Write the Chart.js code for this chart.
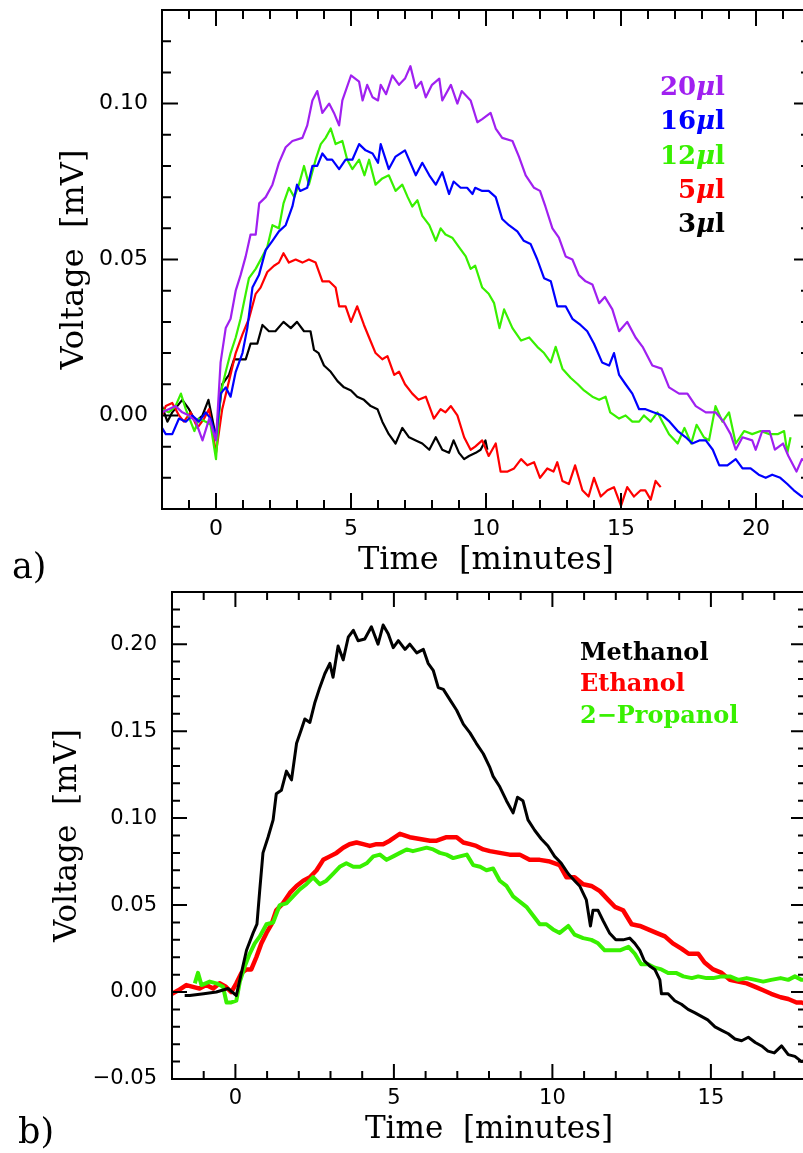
<!DOCTYPE html>
<html>
<head>
<meta charset="utf-8">
<script src="https://cdn.jsdelivr.net/npm/chart.js@4.4.1/dist/chart.umd.min.js"></script>
<style>
  html, body { margin: 0; padding: 0; background: #fff; overflow: hidden; width: 803px; height: 1153px; }
  canvas { position: absolute; left: 0; }
  #chartA { top: 0; }
  #chartB { top: 590px; }
</style>
</head>
<body>
<canvas id="chartA" width="820" height="590"></canvas>
<canvas id="chartB" width="820" height="563"></canvas>
<script>
// ---- panel a: injected volume series (time in minutes, voltage in mV)
const tA20 = [-2.0, -1.75, -1.5, -1.25, -1.0, -0.75, -0.5, -0.25, 0.0, 0.17, 0.36, 0.54, 0.73, 0.91, 1.1, 1.28, 1.47, 1.6, 1.84, 2.09, 2.33, 2.58, 2.83, 3.2, 3.38, 3.57, 3.75, 3.94, 4.19, 4.37, 4.56, 4.68, 5.0, 5.3, 5.43, 5.6, 5.8, 6.0, 6.1, 6.3, 6.53, 6.78, 7.0, 7.2, 7.4, 7.6, 7.77, 8.0, 8.27, 8.38, 8.7, 8.94, 9.1, 9.43, 9.68, 9.86, 10.17, 10.36, 10.6, 10.98, 11.22, 11.47, 11.78, 12.0, 12.2, 12.46, 12.7, 12.95, 13.2, 13.44, 13.69, 13.94, 14.19, 14.4, 14.68, 14.93, 15.23, 15.54, 15.8, 16.16, 16.5, 16.78, 17.15, 17.46, 17.77, 18.14, 18.5, 18.8, 19.06, 19.25, 19.5, 19.86, 19.99, 20.23, 20.5, 20.7, 21.0, 21.2, 21.5, 21.7, 22.0];
const vA20 = [0.001, 0.002, 0.003, 0.001, 0.0, -0.002, -0.008, -0.001, -0.008, 0.017, 0.028, 0.031, 0.040, 0.045, 0.051, 0.058, 0.058, 0.068, 0.070, 0.074, 0.081, 0.086, 0.088, 0.089, 0.093, 0.101, 0.104, 0.097, 0.100, 0.097, 0.093, 0.101, 0.109, 0.107, 0.101, 0.106, 0.102, 0.101, 0.106, 0.103, 0.109, 0.106, 0.108, 0.112, 0.105, 0.107, 0.102, 0.106, 0.108, 0.101, 0.106, 0.100, 0.104, 0.101, 0.094, 0.095, 0.097, 0.092, 0.089, 0.088, 0.083, 0.077, 0.073, 0.072, 0.067, 0.060, 0.057, 0.051, 0.050, 0.045, 0.043, 0.042, 0.036, 0.038, 0.034, 0.027, 0.030, 0.025, 0.022, 0.016, 0.015, 0.009, 0.007, 0.007, 0.003, 0.001, 0.001, -0.002, -0.006, -0.011, -0.007, -0.008, -0.011, -0.005, -0.005, -0.011, -0.009, -0.013, -0.018, -0.014, -0.016];

const tA16 = [-2.0, -1.86, -1.62, -1.37, -1.12, -0.88, -0.63, -0.38, -0.2, 0.0, 0.17, 0.36, 0.54, 0.73, 0.98, 1.16, 1.35, 1.59, 1.84, 2.09, 2.33, 2.58, 2.83, 3.0, 3.12, 3.38, 3.57, 3.75, 3.94, 4.12, 4.3, 4.56, 4.8, 5.05, 5.3, 5.54, 5.8, 6.0, 6.1, 6.4, 6.65, 7.0, 7.4, 7.64, 7.9, 8.14, 8.38, 8.63, 8.8, 9.06, 9.3, 9.5, 9.6, 9.86, 10.1, 10.36, 10.6, 10.85, 11.16, 11.4, 11.65, 11.9, 12.15, 12.4, 12.64, 12.95, 13.2, 13.5, 13.75, 14.0, 14.3, 14.56, 14.74, 14.93, 15.17, 15.42, 15.67, 15.91, 16.2, 16.53, 16.8, 17.1, 17.4, 17.64, 17.9, 18.14, 18.4, 18.64, 18.94, 19.25, 19.5, 19.8, 20.1, 20.36, 20.6, 20.9, 21.16, 21.4, 21.7, 22.0];
const vA16 = [-0.004, -0.006, -0.006, -0.001, -0.002, 0.0, -0.002, 0.001, -0.001, -0.007, 0.007, 0.009, 0.006, 0.014, 0.020, 0.028, 0.041, 0.045, 0.053, 0.056, 0.059, 0.061, 0.067, 0.074, 0.072, 0.073, 0.080, 0.080, 0.084, 0.082, 0.082, 0.079, 0.082, 0.082, 0.087, 0.085, 0.084, 0.081, 0.087, 0.079, 0.083, 0.085, 0.077, 0.081, 0.077, 0.074, 0.078, 0.071, 0.075, 0.073, 0.073, 0.071, 0.073, 0.072, 0.072, 0.070, 0.063, 0.061, 0.059, 0.056, 0.055, 0.050, 0.044, 0.043, 0.035, 0.035, 0.031, 0.029, 0.027, 0.023, 0.017, 0.016, 0.020, 0.013, 0.010, 0.007, 0.002, 0.002, 0.001, 0.0, -0.002, -0.005, -0.007, -0.009, -0.008, -0.008, -0.011, -0.016, -0.016, -0.014, -0.017, -0.017, -0.019, -0.020, -0.019, -0.020, -0.022, -0.024, -0.026, -0.027];

const tA12 = [-2.0, -1.75, -1.5, -1.3, -1.12, -0.8, -0.63, -0.38, -0.2, 0.0, 0.17, 0.36, 0.54, 0.73, 0.91, 1.1, 1.22, 1.47, 1.72, 1.9, 2.09, 2.33, 2.5, 2.7, 2.9, 3.07, 3.26, 3.44, 3.69, 3.88, 4.06, 4.25, 4.43, 4.68, 4.86, 5.05, 5.3, 5.5, 5.67, 5.91, 6.16, 6.4, 6.65, 6.9, 7.1, 7.27, 7.46, 7.64, 7.9, 8.14, 8.32, 8.5, 8.75, 9.0, 9.25, 9.43, 9.6, 9.86, 10.1, 10.3, 10.5, 10.67, 10.98, 11.3, 11.6, 11.9, 12.15, 12.4, 12.58, 12.83, 13.14, 13.4, 13.63, 13.94, 14.19, 14.43, 14.6, 14.93, 15.17, 15.42, 15.67, 15.85, 16.1, 16.35, 16.53, 16.78, 17.1, 17.35, 17.6, 17.8, 18.07, 18.26, 18.5, 18.76, 19.0, 19.25, 19.56, 19.86, 20.17, 20.5, 20.8, 21.04, 21.16, 21.28];
const vA12 = [0.002, 0.001, 0.003, 0.007, 0.002, -0.005, -0.001, -0.002, -0.003, -0.014, 0.007, 0.014, 0.020, 0.025, 0.031, 0.039, 0.044, 0.047, 0.051, 0.054, 0.061, 0.060, 0.068, 0.073, 0.070, 0.074, 0.080, 0.074, 0.082, 0.087, 0.089, 0.092, 0.087, 0.088, 0.082, 0.079, 0.082, 0.077, 0.082, 0.074, 0.076, 0.077, 0.072, 0.074, 0.070, 0.067, 0.069, 0.064, 0.061, 0.056, 0.060, 0.058, 0.057, 0.054, 0.051, 0.047, 0.048, 0.041, 0.039, 0.036, 0.028, 0.034, 0.028, 0.024, 0.025, 0.022, 0.020, 0.017, 0.022, 0.015, 0.012, 0.010, 0.008, 0.006, 0.005, 0.006, 0.001, -0.001, 0.0, -0.002, -0.002, 0.0, -0.002, 0.001, -0.002, -0.006, -0.009, -0.004, -0.009, -0.003, -0.007, -0.008, 0.003, -0.002, 0.001, -0.009, -0.005, -0.006, -0.005, -0.006, -0.006, -0.005, -0.012, -0.007];

const tA5 = [-2.0, -1.86, -1.62, -1.37, -1.19, -0.94, -0.69, -0.44, -0.26, 0.0, 0.23, 0.48, 0.73, 0.98, 1.22, 1.47, 1.65, 1.9, 2.15, 2.33, 2.5, 2.7, 2.95, 3.2, 3.44, 3.69, 3.94, 4.19, 4.43, 4.56, 4.8, 5.0, 5.23, 5.48, 5.67, 5.91, 6.16, 6.35, 6.6, 6.78, 7.0, 7.27, 7.5, 7.77, 8.07, 8.32, 8.5, 8.7, 8.94, 9.19, 9.43, 9.6, 9.86, 10.1, 10.36, 10.54, 10.8, 11.04, 11.3, 11.53, 11.78, 12.0, 12.27, 12.5, 12.64, 12.83, 13.07, 13.3, 13.57, 13.8, 14.0, 14.25, 14.5, 14.74, 15.0, 15.23, 15.48, 15.73, 15.9, 16.1, 16.28, 16.47];
const vA5 = [0.0, 0.003, 0.004, 0.0, -0.002, 0.001, -0.004, -0.001, 0.002, -0.012, 0.002, 0.011, 0.020, 0.026, 0.031, 0.039, 0.041, 0.046, 0.048, 0.049, 0.052, 0.049, 0.050, 0.049, 0.050, 0.049, 0.043, 0.043, 0.041, 0.035, 0.035, 0.030, 0.035, 0.029, 0.025, 0.020, 0.018, 0.019, 0.013, 0.014, 0.010, 0.007, 0.005, 0.006, -0.001, 0.002, 0.001, 0.003, 0.0, -0.007, -0.011, -0.010, -0.008, -0.013, -0.009, -0.018, -0.018, -0.017, -0.014, -0.016, -0.015, -0.020, -0.017, -0.018, -0.015, -0.021, -0.022, -0.016, -0.024, -0.026, -0.020, -0.026, -0.024, -0.023, -0.029, -0.023, -0.026, -0.024, -0.024, -0.027, -0.021, -0.023];

const tA3 = [-2.0, -1.8, -1.62, -1.25, -1.0, -0.75, -0.5, -0.28, 0.0, 0.23, 0.48, 0.67, 0.91, 1.1, 1.28, 1.53, 1.72, 1.96, 2.2, 2.5, 2.77, 3.0, 3.26, 3.5, 3.63, 3.8, 4.0, 4.25, 4.5, 4.74, 5.0, 5.23, 5.48, 5.73, 5.98, 6.16, 6.4, 6.65, 6.9, 7.15, 7.4, 7.64, 7.9, 8.14, 8.38, 8.63, 8.8, 9.0, 9.19, 9.37, 9.62, 9.8, 9.98, 10.05];
const vA3 = [0.003, -0.002, 0.001, 0.005, 0.002, -0.002, 0.0, 0.005, -0.007, 0.010, 0.013, 0.018, 0.018, 0.018, 0.023, 0.023, 0.029, 0.027, 0.027, 0.030, 0.028, 0.030, 0.027, 0.027, 0.021, 0.020, 0.016, 0.014, 0.011, 0.009, 0.008, 0.006, 0.005, 0.003, 0.002, -0.002, -0.006, -0.009, -0.004, -0.007, -0.008, -0.009, -0.011, -0.007, -0.011, -0.012, -0.008, -0.012, -0.014, -0.013, -0.012, -0.011, -0.008, -0.011];

const labelsA = ['20\u03bcl', '16\u03bcl', '12\u03bcl', '5\u03bcl', '3\u03bcl'];
const colorsA = ['#a020f0', '#0000ff', '#38f000', '#ff0000', '#000000'];
const xTicksA = [0, 5, 10, 15, 20];
const yTicksA = [0.00, 0.05, 0.10];

// ---- panel b: alcohols
const tMeth = [-1.6, -1.44, -1.0, -0.6, -0.23, 0.03, 0.19, 0.35, 0.56, 0.68, 0.77, 0.87, 1.03, 1.19, 1.29, 1.45, 1.61, 1.77, 1.93, 2.08, 2.19, 2.35, 2.5, 2.66, 2.82, 2.98, 3.08, 3.24, 3.4, 3.56, 3.72, 3.87, 4.08, 4.29, 4.5, 4.66, 4.82, 4.98, 5.14, 5.35, 5.5, 5.72, 5.93, 6.08, 6.24, 6.4, 6.56, 6.77, 6.98, 7.19, 7.4, 7.6, 7.82, 8.03, 8.13, 8.34, 8.55, 8.76, 8.9, 9.07, 9.23, 9.44, 9.65, 9.86, 10.07, 10.28, 10.5, 10.7, 10.86, 11.07, 11.2, 11.28, 11.44, 11.6, 11.8, 12.0, 12.23, 12.44, 12.6, 12.76, 12.9, 13.07, 13.23, 13.39, 13.44, 13.65, 13.86, 14.07, 14.28, 14.5, 14.7, 14.9, 15.13, 15.34, 15.55, 15.76, 15.97, 16.18, 16.4, 16.6, 16.8, 17.0, 17.23, 17.44, 17.65, 17.86, 18.0];
const vMeth = [-0.002, -0.002, -0.001, 0.0, 0.002, -0.002, 0.011, 0.024, 0.034, 0.039, 0.059, 0.080, 0.089, 0.099, 0.114, 0.116, 0.127, 0.122, 0.143, 0.151, 0.157, 0.155, 0.166, 0.175, 0.183, 0.189, 0.181, 0.199, 0.191, 0.204, 0.208, 0.202, 0.203, 0.210, 0.200, 0.211, 0.206, 0.198, 0.202, 0.197, 0.200, 0.195, 0.197, 0.189, 0.185, 0.175, 0.174, 0.168, 0.162, 0.154, 0.149, 0.143, 0.137, 0.129, 0.124, 0.118, 0.110, 0.103, 0.112, 0.110, 0.099, 0.093, 0.088, 0.084, 0.078, 0.074, 0.068, 0.064, 0.061, 0.053, 0.038, 0.047, 0.047, 0.041, 0.034, 0.030, 0.030, 0.031, 0.028, 0.024, 0.018, 0.015, 0.013, 0.007, -0.001, -0.001, -0.005, -0.007, -0.010, -0.012, -0.014, -0.016, -0.020, -0.022, -0.024, -0.027, -0.028, -0.026, -0.029, -0.031, -0.034, -0.035, -0.031, -0.036, -0.037, -0.040, -0.039];

const tEth = [-2.0, -1.8, -1.55, -1.34, -1.13, -0.92, -0.7, -0.5, -0.3, -0.13, 0.03, 0.19, 0.35, 0.5, 0.66, 0.82, 0.98, 1.14, 1.29, 1.5, 1.72, 1.93, 2.14, 2.35, 2.56, 2.77, 2.98, 3.19, 3.4, 3.6, 3.82, 4.03, 4.24, 4.45, 4.66, 4.87, 5.19, 5.5, 5.82, 6.14, 6.35, 6.66, 6.98, 7.19, 7.4, 7.6, 7.82, 8.03, 8.34, 8.65, 8.97, 9.28, 9.6, 9.92, 10.23, 10.44, 10.7, 10.97, 11.23, 11.5, 11.76, 11.97, 12.23, 12.5, 12.76, 13.02, 13.28, 13.55, 13.8, 14.07, 14.3, 14.6, 14.8, 15.07, 15.34, 15.6, 15.86, 16.13, 16.4, 16.65, 16.9, 17.2, 17.44, 17.7, 17.86, 18.0];
const vEth = [-0.001, 0.001, 0.004, 0.003, 0.002, 0.004, 0.002, 0.005, 0.003, 0.0, 0.005, 0.011, 0.013, 0.013, 0.020, 0.028, 0.034, 0.039, 0.047, 0.051, 0.057, 0.061, 0.064, 0.066, 0.070, 0.076, 0.078, 0.080, 0.083, 0.085, 0.086, 0.085, 0.084, 0.085, 0.085, 0.087, 0.091, 0.089, 0.088, 0.087, 0.087, 0.089, 0.089, 0.086, 0.085, 0.084, 0.082, 0.081, 0.080, 0.079, 0.079, 0.076, 0.076, 0.075, 0.073, 0.066, 0.066, 0.062, 0.061, 0.058, 0.053, 0.049, 0.047, 0.039, 0.038, 0.036, 0.034, 0.032, 0.028, 0.025, 0.022, 0.022, 0.017, 0.013, 0.011, 0.007, 0.006, 0.005, 0.003, 0.001, -0.001, -0.003, -0.004, -0.006, -0.006, -0.007];

const tProp = [-1.28, -1.18, -1.07, -0.81, -0.6, -0.39, -0.28, -0.13, 0.03, 0.14, 0.3, 0.45, 0.61, 0.77, 0.98, 1.19, 1.4, 1.61, 1.82, 2.03, 2.24, 2.45, 2.66, 2.87, 3.08, 3.29, 3.5, 3.72, 3.93, 4.14, 4.35, 4.56, 4.77, 4.98, 5.19, 5.4, 5.6, 5.82, 6.03, 6.24, 6.45, 6.66, 6.87, 7.08, 7.3, 7.5, 7.72, 7.92, 8.13, 8.34, 8.55, 8.76, 8.97, 9.18, 9.39, 9.6, 9.81, 10.02, 10.23, 10.5, 10.7, 10.97, 11.23, 11.44, 11.65, 11.9, 12.13, 12.4, 12.6, 12.8, 13.02, 13.23, 13.44, 13.65, 13.9, 14.13, 14.4, 14.6, 14.86, 15.07, 15.34, 15.6, 15.86, 16.13, 16.4, 16.65, 16.9, 17.2, 17.44, 17.65, 17.86, 18.0];
const vProp = [0.005, 0.011, 0.004, 0.006, 0.005, 0.003, -0.006, -0.006, -0.005, 0.006, 0.015, 0.022, 0.028, 0.032, 0.039, 0.040, 0.050, 0.051, 0.055, 0.059, 0.062, 0.066, 0.062, 0.064, 0.068, 0.072, 0.074, 0.072, 0.072, 0.074, 0.078, 0.079, 0.076, 0.078, 0.080, 0.082, 0.081, 0.082, 0.083, 0.082, 0.080, 0.079, 0.077, 0.078, 0.079, 0.073, 0.072, 0.070, 0.071, 0.064, 0.061, 0.055, 0.052, 0.049, 0.044, 0.039, 0.039, 0.036, 0.034, 0.038, 0.033, 0.031, 0.030, 0.028, 0.024, 0.024, 0.024, 0.026, 0.022, 0.016, 0.016, 0.014, 0.013, 0.011, 0.011, 0.009, 0.008, 0.009, 0.008, 0.008, 0.009, 0.009, 0.007, 0.008, 0.007, 0.006, 0.007, 0.008, 0.007, 0.009, 0.007, 0.007];

const labelsB = ['Methanol', 'Ethanol', '2\u2212Propanol'];
const colorsB = ['#000000', '#ff0000', '#38f000'];
const xTicksB = [0, 5, 10, 15];
const yTicksB = [-0.05, 0.00, 0.05, 0.10, 0.15, 0.20];

function pts(ts, vs) {
    return ts.map((t, i) => ({ x: t, y: vs[i] }));
}

function fmtVolt(v) {
    const s = Math.abs(v).toFixed(2);
    return v < -1e-9 ? '\u2212' + s : s;
}

// frame with inward major/minor ticks on all four sides
const frameTicks = {
    id: 'frameTicks',
    afterDatasetsDraw(chart, args, opts) {
        const { ctx, chartArea: { left, right, top, bottom }, scales: { x, y } } = chart;
        ctx.save();
        ctx.strokeStyle = '#000';
        ctx.lineWidth = opts.width;
        ctx.lineCap = 'square';
        ctx.strokeRect(left, top, right - left, bottom - top);
        ctx.beginPath();
        for (let t = Math.ceil(x.min); t <= x.max; t++) {
            const px = x.getPixelForValue(t);
            const len = t % 5 === 0 ? opts.major : opts.minor;
            ctx.moveTo(px, bottom);
            ctx.lineTo(px, bottom - len);
            ctx.moveTo(px, top);
            ctx.lineTo(px, top + len);
        }
        for (let k = Math.ceil(y.min * 100 - 1e-6); k <= Math.floor(y.max * 100 + 1e-6); k++) {
            const py = y.getPixelForValue(k / 100);
            const len = k % 5 === 0 ? opts.major : opts.minor;
            ctx.moveTo(left, py);
            ctx.lineTo(left + len, py);
            ctx.moveTo(right, py);
            ctx.lineTo(right - len, py);
        }
        ctx.stroke();
        ctx.restore();
    }
};

// coloured text legend and the panel letter
const textLegend = {
    id: 'textLegend',
    afterDraw(chart, args, opts) {
        const ctx = chart.ctx;
        ctx.save();
        ctx.textBaseline = 'alphabetic';
        opts.labels.forEach((lab, i) => {
            const y = opts.y + i * opts.step;
            ctx.fillStyle = opts.colors[i];
            const parts = lab.split(/(\u03bc)/).filter(p => p.length);
            const fonts = parts.map(p => (p === '\u03bc' ? 'italic ' : '') + opts.font);
            let w = 0;
            parts.forEach((p, j) => { ctx.font = fonts[j]; w += ctx.measureText(p).width; });
            let x = opts.align === 'right' ? opts.x - w : opts.x;
            ctx.textAlign = 'left';
            parts.forEach((p, j) => {
                ctx.font = fonts[j];
                ctx.fillText(p, x, y);
                x += ctx.measureText(p).width;
            });
        });
        ctx.fillStyle = '#000';
        ctx.font = opts.panelFont;
        ctx.fillText(opts.panel, opts.panelX, opts.panelY);
        ctx.restore();
    }
};

function makeChart(id, cfg) {
    const datasets = cfg.series.map(s => ({
        data: s.data,
        borderColor: s.color,
        borderWidth: s.width,
        pointRadius: 0,
        tension: 0,
        borderJoinStyle: 'round',
        order: s.order
    }));
    return new Chart(document.getElementById(id), {
        type: 'line',
        data: { datasets },
        plugins: [frameTicks, textLegend],
        options: {
            responsive: false,
            animation: false,
            events: [],
            layout: { padding: { left: 0, right: cfg.padRight, top: cfg.padTop, bottom: 0 } },
            scales: {
                x: {
                    type: 'linear',
                    min: cfg.xMin, max: cfg.xMax,
                    afterBuildTicks: s => { s.ticks = cfg.xTicks.map(v => ({ value: v })); },
                    afterFit: s => { s.height = cfg.xAxisHeight; s.paddingLeft = 0; s.paddingRight = 0; },
                    grid: { display: false, drawTicks: false },
                    border: { display: false },
                    ticks: {
                        padding: cfg.xTickPad, color: '#000', maxRotation: 0, autoSkip: false,
                        font: { family: 'DejaVu Sans', size: cfg.tickSize },
                        callback: v => String(v)
                    },
                    title: {
                        display: true, text: 'Time  [minutes]', color: '#000',
                        font: { family: 'DejaVu Serif', size: cfg.titleSize },
                        padding: { top: 0, bottom: cfg.xTitlePad }
                    }
                },
                y: {
                    type: 'linear',
                    min: cfg.yMin, max: cfg.yMax,
                    afterBuildTicks: s => { s.ticks = cfg.yTicks.map(v => ({ value: v })); },
                    afterFit: s => { s.width = cfg.yAxisWidth; s.paddingTop = 0; s.paddingBottom = 0; },
                    grid: { display: false, drawTicks: false },
                    border: { display: false },
                    ticks: {
                        padding: cfg.yTickPad, color: '#000', autoSkip: false,
                        font: { family: 'DejaVu Sans', size: cfg.tickSize },
                        callback: v => fmtVolt(v)
                    },
                    title: {
                        display: true, text: 'Voltage  [mV]', color: '#000',
                        font: { family: 'DejaVu Serif', size: cfg.titleSize },
                        padding: { top: cfg.yTitlePad, bottom: 0 }
                    }
                }
            },
            plugins: {
                legend: { display: false },
                tooltip: { enabled: false },
                frameTicks: { width: 2, major: cfg.major, minor: cfg.minor },
                textLegend: cfg.legend
            }
        }
    });
}

makeChart('chartA', {
    series: [
        { data: pts(tA3, vA3), color: colorsA[4], width: 2.2, order: 5 },
        { data: pts(tA5, vA5), color: colorsA[3], width: 2.2, order: 4 },
        { data: pts(tA12, vA12), color: colorsA[2], width: 2.2, order: 3 },
        { data: pts(tA16, vA16), color: colorsA[1], width: 2.2, order: 2 },
        { data: pts(tA20, vA20), color: colorsA[0], width: 2.2, order: 1 }
    ],
    xMin: -2, xMax: 22, yMin: -0.03, yMax: 0.13,
    xTicks: xTicksA, yTicks: yTicksA,
    padRight: 10, padTop: 10,
    xAxisHeight: 81, yAxisWidth: 162,
    xTickPad: 7, yTickPad: 14, xTitlePad: 10, yTitlePad: 55,
    tickSize: 22, titleSize: 32, major: 15, minor: 8,
    legend: {
        labels: labelsA, colors: colorsA, font: 'bold 26px "DejaVu Serif"',
        x: 725, y: 95, step: 34.3, align: 'right',
        panel: 'a)', panelFont: '35px "DejaVu Serif"', panelX: 12, panelY: 578
    }
});

makeChart('chartB', {
    series: [
        { data: pts(tMeth, vMeth), color: colorsB[0], width: 3, order: 1 },
        { data: pts(tEth, vEth), color: colorsB[1], width: 4.5, order: 3 },
        { data: pts(tProp, vProp), color: colorsB[2], width: 4, order: 2 }
    ],
    xMin: -2, xMax: 18, yMin: -0.05, yMax: 0.23,
    xTicks: xTicksB, yTicks: yTicksB,
    padRight: 14, padTop: 2,
    xAxisHeight: 74, yAxisWidth: 172,
    xTickPad: 7, yTickPad: 15, xTitlePad: 4, yTitlePad: 49,
    tickSize: 21, titleSize: 31, major: 14, minor: 7,
    legend: {
        labels: labelsB, colors: colorsB, font: 'bold 24px "DejaVu Serif"',
        x: 580, y: 70, step: 31.3, align: 'left',
        panel: 'b)', panelFont: '35px "DejaVu Serif"', panelX: 18, panelY: 553
    }
});
</script>
</body>
</html>
